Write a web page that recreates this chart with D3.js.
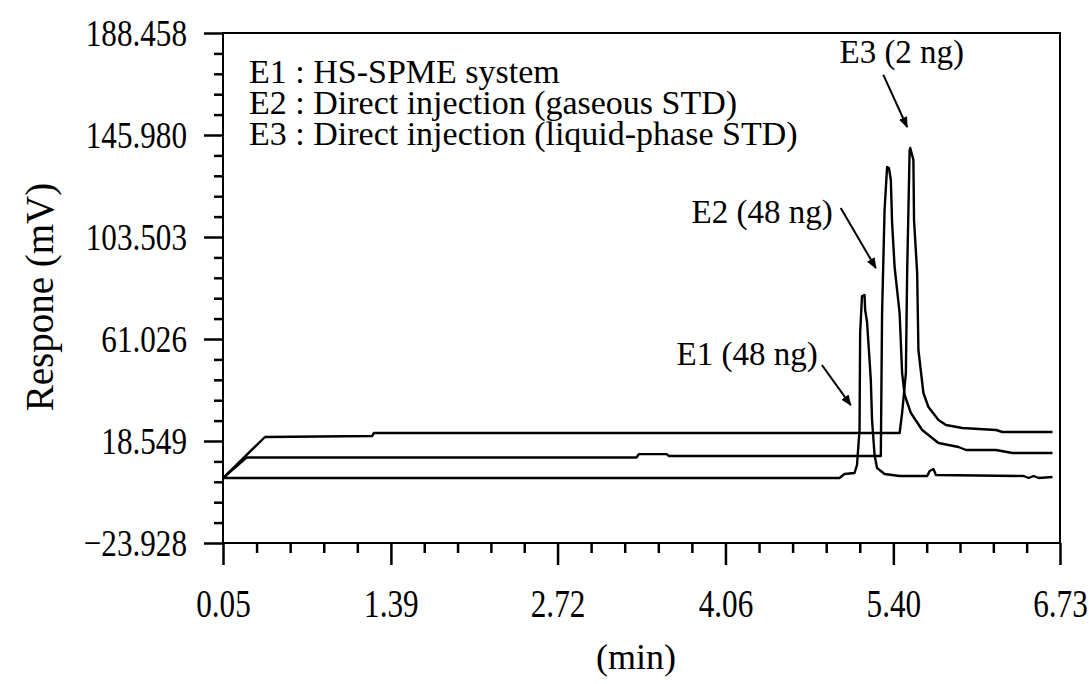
<!DOCTYPE html>
<html>
<head>
<meta charset="utf-8">
<script src="https://cdn.jsdelivr.net/npm/d3@7"></script>
<style>
  body { margin: 0; background: #fff; }
  svg { font-family: "Liberation Serif", "DejaVu Serif", serif; }
  .axis line { stroke: #000; stroke-width: 2.5; }
  .axis text { font-family: "Liberation Serif", serif; fill: #000; transform-box: fill-box; }
  .y.axis text { font-size: 38px; transform-origin: right center; transform: scaleX(0.82); }
  .x.axis text { font-size: 39px; transform-origin: center; transform: scaleX(0.8); }
  .trace { fill: none; stroke: #000; stroke-width: 2.4; stroke-linejoin: round; }
</style>
</head>
<body>
<script>
// chromatogram, three runs (E1, E2, E3)

var xTicks = [0.05, 1.39, 2.72, 4.06, 5.40, 6.73];
var xTickLabels = ["0.05", "1.39", "2.72", "4.06", "5.40", "6.73"];
var yTicks = [-23.928, 18.549, 61.026, 103.503, 145.980, 188.458];
var yTickLabels = ["\u221223.928", "18.549", "61.026", "103.503", "145.980", "188.458"];

// E1 : HS-SPME system
var e1Time = [0.05, 4.97, 5.01, 5.09, 5.11, 5.13, 5.135, 5.15, 5.17, 5.175, 5.19, 5.21, 5.22, 5.23, 5.25, 5.27, 5.33, 5.45, 5.67, 5.69, 5.72, 5.74, 6.44, 6.48, 6.52, 6.56, 6.67];
var e1Resp = [3.14, 3.14, 4.81, 5.22, 8.55, 23.13, 63.52, 78.93, 79.35, 73.10, 68.10, 52.28, 43.95, 27.29, 12.72, 7.30, 4.81, 3.97, 3.97, 6.06, 6.89, 4.39, 3.97, 3.14, 3.97, 3.14, 3.56];

// E2 : direct injection (gaseous STD)
var e2Time = [0.05, 0.24, 3.35, 3.37, 3.59, 3.61, 5.30, 5.31, 5.33, 5.35, 5.365, 5.38, 5.39, 5.41, 5.45, 5.47, 5.49, 5.54, 5.63, 5.76, 5.92, 5.98, 6.22, 6.35, 6.67];
var e2Resp = [3.14, 11.7, 11.7, 13.1, 13.1, 12.3, 12.3, 71.85, 114.74, 132.65, 132.2, 127.24, 109.33, 91.01, 71.85, 46.87, 37.70, 30.21, 23.13, 17.72, 16.05, 14.80, 14.80, 13.55, 13.55];

// E3 : direct injection (liquid-phase STD)
var e3Time = [0.05, 0.385, 1.24, 1.255, 5.45, 5.47, 5.50, 5.51, 5.53, 5.535, 5.56, 5.565, 5.59, 5.60, 5.64, 5.68, 5.76, 5.82, 5.95, 6.22, 6.27, 6.67];
var e3Resp = [3.14, 20.21, 20.63, 21.88, 21.88, 30.21, 46.87, 88.51, 139.73, 140.56, 135.57, 110.58, 88.51, 56.44, 38.54, 32.71, 27.29, 25.21, 23.96, 23.13, 22.29, 22.29];

var legendLines = ["E1 : HS-SPME system", "E2 : Direct injection (gaseous STD)", "E3 : Direct injection (liquid-phase STD)"];

var peakLabels = ["E1 (48 ng)", "E2 (48 ng)", "E3 (2 ng)"];
var peakLabelAt = [[3.67, 50.2], [3.79, 109.3], [4.97, 176.0]];
var arrowFrom = [[4.83, 50.2], [4.98, 115.6], [5.32, 171.0]];
var arrowTo = [[5.06, 33.5], [5.26, 90.6], [5.51, 149.3]];

var margin = {top: 33, right: 29, bottom: 141, left: 223},
    width = 1089 - margin.left - margin.right,
    height = 684 - margin.top - margin.bottom;

var x = d3.scaleLinear().domain([0.05, 6.73]).range([0, width]);
var y = d3.scaleLinear().domain([-23.928, 188.458]).range([height, 0]);

function subdivide(ticks, n) {
  var out = [];
  for (var i = 0; i < ticks.length - 1; i++) {
    var step = (ticks[i + 1] - ticks[i]) / n;
    for (var k = 1; k < n; k++) out.push(ticks[i] + k * step);
  }
  return out;
}

var svg = d3.select("body").append("svg")
    .attr("width", 1089)
    .attr("height", 684);

var defs = svg.append("defs");
defs.append("marker")
    .attr("id", "head")
    .attr("markerUnits", "userSpaceOnUse")
    .attr("viewBox", "0 0 10 10")
    .attr("refX", 9).attr("refY", 5)
    .attr("markerWidth", 11).attr("markerHeight", 11)
    .attr("orient", "auto")
  .append("path")
    .attr("d", "M0,1 L10,5 L0,9 Z")
    .attr("fill", "#000");

var g = svg.append("g")
    .attr("transform", "translate(" + margin.left + "," + margin.top + ")");

// minor ticks
g.append("g").attr("class", "x axis minor")
    .attr("transform", "translate(0," + height + ")")
    .call(d3.axisBottom(x).tickValues(subdivide(xTicks, 5)).tickSize(10).tickFormat(""))
    .call(function(s) { s.select(".domain").remove(); });

g.append("g").attr("class", "y axis minor")
    .call(d3.axisLeft(y).tickValues(subdivide(yTicks, 5)).tickSize(9).tickFormat(""))
    .call(function(s) { s.select(".domain").remove(); });

// major ticks + labels
g.append("g").attr("class", "x axis")
    .attr("transform", "translate(0," + height + ")")
    .call(d3.axisBottom(x).tickValues(xTicks).tickSize(22).tickPadding(24)
      .tickFormat(function(d, i) { return xTickLabels[i]; }))
    .call(function(s) { s.select(".domain").remove(); });

g.append("g").attr("class", "y axis")
    .call(d3.axisLeft(y).tickValues(yTicks).tickSize(19).tickPadding(17)
      .tickFormat(function(d, i) { return yTickLabels[i]; }))
    .call(function(s) { s.select(".domain").remove(); });

// frame
g.append("rect")
    .attr("width", width)
    .attr("height", height)
    .attr("fill", "none")
    .attr("stroke", "#000")
    .attr("stroke-width", 2);

var line = d3.line()
    .x(function(d) { return x(d[0]); })
    .y(function(d) { return y(d[1]); });

[[e1Time, e1Resp], [e2Time, e2Resp], [e3Time, e3Resp]].forEach(function(s) {
  g.append("path")
      .attr("class", "trace")
      .attr("d", line(d3.zip(s[0], s[1])));
});

// legend block
g.selectAll(".legend")
    .data(legendLines)
    .enter()
  .append("text")
    .attr("class", "legend")
    .attr("x", 26)
    .attr("y", function(d, i) { return 50 + i * 31; })
    .attr("font-size", "34px")
    .text(function(d) { return d; });

// peak annotations
g.selectAll(".arrow")
    .data(arrowFrom)
    .enter()
  .append("line")
    .attr("class", "arrow")
    .attr("x1", function(d) { return x(d[0]); })
    .attr("y1", function(d) { return y(d[1]); })
    .attr("x2", function(d, i) { return x(arrowTo[i][0]); })
    .attr("y2", function(d, i) { return y(arrowTo[i][1]); })
    .attr("stroke", "#000")
    .attr("stroke-width", 2)
    .attr("marker-end", "url(#head)");

g.selectAll(".peak-label")
    .data(peakLabels)
    .enter()
  .append("text")
    .attr("class", "peak-label")
    .attr("x", function(d, i) { return x(peakLabelAt[i][0]); })
    .attr("y", function(d, i) { return y(peakLabelAt[i][1]); })
    .attr("font-size", "33px")
    .text(function(d) { return d; });

// axis titles
svg.append("text")
    .attr("transform", "translate(53,297) rotate(-90)")
    .attr("text-anchor", "middle")
    .attr("font-size", "39px")
    .text("Respone (mV)");

svg.append("text")
    .attr("x", 636)
    .attr("y", 669)
    .attr("text-anchor", "middle")
    .attr("font-size", "36px")
    .text("(min)");
</script>
</body>
</html>
